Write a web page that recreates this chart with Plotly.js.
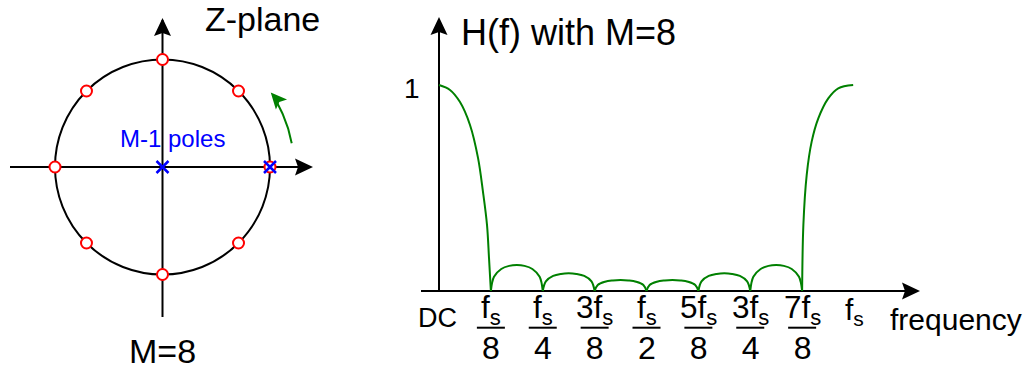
<!DOCTYPE html>
<html><head><meta charset="utf-8">
<script src="https://cdn.plot.ly/plotly-3.0.1.min.js"></script>
<style>html,body{margin:0;padding:0;background:#fff;} #chart{width:1030px;height:370px;}</style>
</head><body><div id="chart"></div>
<script>
// ---- Z-plane data (unit-circle zeros, poles) ----
const zeroRe = [1, 0.7071, 0, -0.7071, -1, -0.7071, 0, 0.7071];
const zeroIm = [0, 0.7071, 1, 0.7071, 0, -0.7071, -1, -0.7071];
const poleRe = [0, 1];
const poleIm = [0, 0];

// ---- H(f) magnitude (f in units of fs) ----
const lobe0F = [0, 0.0265, 0.0506, 0.0747, 0.094, 0.106, 0.1157, 0.1205, 0.125];
const lobe0H = [1, 0.976, 0.917, 0.806, 0.646, 0.481, 0.320, 0.160, 0];
const lobe1F = [0.125, 0.1325, 0.15, 0.169, 0.1875, 0.206, 0.225, 0.2425, 0.25];
const lobe1H = [0, 0.069, 0.107, 0.122, 0.126, 0.122, 0.107, 0.069, 0];
const lobe2F = [0.25, 0.2575, 0.275, 0.294, 0.3125, 0.331, 0.35, 0.3675, 0.375];
const lobe2H = [0, 0.047, 0.073, 0.083, 0.086, 0.083, 0.073, 0.047, 0];
const lobe3F = [0.375, 0.3825, 0.4, 0.419, 0.4375, 0.456, 0.475, 0.4925, 0.5];
const lobe3H = [0, 0.029, 0.045, 0.051, 0.053, 0.051, 0.045, 0.029, 0];
const lobe4F = [0.5, 0.5075, 0.525, 0.544, 0.5625, 0.581, 0.6, 0.6175, 0.625];
const lobe4H = [0, 0.029, 0.045, 0.051, 0.053, 0.051, 0.045, 0.029, 0];
const lobe5F = [0.625, 0.6325, 0.65, 0.669, 0.6875, 0.706, 0.725, 0.7425, 0.75];
const lobe5H = [0, 0.047, 0.073, 0.083, 0.086, 0.083, 0.073, 0.047, 0];
const lobe6F = [0.75, 0.7575, 0.775, 0.794, 0.8125, 0.831, 0.85, 0.8675, 0.875];
const lobe6H = [0, 0.069, 0.107, 0.122, 0.126, 0.122, 0.107, 0.069, 0];
const lobe7F = [0.875, 0.878, 0.886, 0.898, 0.914, 0.938, 0.962, 0.998];
const lobe7H = [0, 0.32, 0.563, 0.725, 0.838, 0.935, 0.984, 1.0];

// ---- tick labels ----
const tickF = [0, 0.125, 0.25, 0.375, 0.5, 0.625, 0.75, 0.875, 1];
const tickNum = ['DC', 'f<sub>s</sub>', 'f<sub>s</sub>', '3f<sub>s</sub>', 'f<sub>s</sub>', '5f<sub>s</sub>', '3f<sub>s</sub>', '7f<sub>s</sub>', 'f<sub>s</sub>'];
const tickDen = ['', '8', '4', '8', '2', '8', '4', '8', ''];

// ---- geometry helpers (pixel -> data) ----
const W = 1030, Hh = 370;
const cx = 162.5, cy = 167, R = 107.5;           // z-plane
const ox = 439, oy = 291, sx = 415, sy = 206;     // H(f) panel
const lx = p => (p - cx) / R, ly = p => (cy - p) / R;
const rx = p => (p - ox) / sx, ry = p => (oy - p) / sy;

const FONT = 'Liberation Sans, Arial, sans-serif';
const GREEN = '#008000', RED = '#ff0000', BLUE = '#0000ff';

const traces = [];
const lobesF = [lobe0F, lobe1F, lobe2F, lobe3F, lobe4F, lobe5F, lobe6F, lobe7F];
const lobesH = [lobe0H, lobe1H, lobe2H, lobe3H, lobe4H, lobe5H, lobe6H, lobe7H];
for (let i = 0; i < lobesF.length; i++) {
  traces.push({x: lobesF[i], y: lobesH[i], xaxis: 'x2', yaxis: 'y2', type: 'scatter', mode: 'lines',
    line: {color: GREEN, width: 2, shape: 'spline', smoothing: 1}, hoverinfo: 'skip', showlegend: false});
}
// green rotation arc (concentric with unit circle)
const arcR = 1.222, a0 = 10.4, a1 = 29;
const arcX = [], arcY = [];
for (let k = 0; k <= 30; k++) {
  const a = (a0 + (a1 - a0) * k / 30) * Math.PI / 180;
  arcX.push(arcR * Math.cos(a)); arcY.push(arcR * Math.sin(a));
}
traces.push({x: arcX, y: arcY, xaxis: 'x', yaxis: 'y', type: 'scatter', mode: 'lines',
  line: {color: GREEN, width: 2}, hoverinfo: 'skip', showlegend: false});
// zeros
traces.push({x: zeroRe, y: zeroIm, xaxis: 'x', yaxis: 'y', type: 'scatter', mode: 'markers', cliponaxis: false,
  marker: {symbol: 'circle', size: 11, color: 'white', line: {color: RED, width: 2}}, hoverinfo: 'skip', showlegend: false});
// poles
traces.push({x: poleRe, y: poleIm, xaxis: 'x', yaxis: 'y', type: 'scatter', mode: 'markers', cliponaxis: false,
  marker: {symbol: 'x-thin', size: 12, color: BLUE, line: {color: BLUE, width: 2.5}}, hoverinfo: 'skip', showlegend: false});

const shapes = [
  {type: 'circle', xref: 'x', yref: 'y', x0: -1, x1: 1, y0: -1, y1: 1, line: {color: '#000', width: 2}, layer: 'below'}
];
// axis line + pixel-sized arrow head (dir: 'r' or 'u')
function axisArrow(xr, yr, x0, y0, x1, y1, dir) {
  shapes.push({type: 'line', xref: xr, yref: yr, x0: x0, y0: y0, x1: x1, y1: y1, line: {color: '#000', width: 2}, layer: 'below'});
  const p = dir === 'r' ? 'M2,0 L-16,8.5 L-13,0 L-16,-8.5 Z' : 'M0,2 L-8.5,-16 L0,-13 L8.5,-16 Z';
  shapes.push({type: 'path', xref: xr, yref: yr, xsizemode: 'pixel', ysizemode: 'pixel', xanchor: x1, yanchor: y1,
    path: p, fillcolor: '#000', line: {color: '#000', width: 0}});
}
axisArrow('x', 'y', lx(10), 0, lx(311), 0, 'r');
axisArrow('x', 'y', 0, ly(317), 0, ly(20), 'u');
axisArrow('x2', 'y2', rx(421), 0, rx(918), 0, 'r');
axisArrow('x2', 'y2', 0, 0, 0, ry(19), 'u');
// green arrow head at end of arc (pixel path, y up)
(function () {
  const tipA = 34.5 * Math.PI / 180;
  const tx = arcR * Math.cos(tipA), ty = arcR * Math.sin(tipA);
  const dAng = 132 * Math.PI / 180, L = 16, hw = 7.5;
  const dx = Math.cos(dAng), dy = Math.sin(dAng);
  const bx = -L * dx, by = -L * dy, nx = -dy, ny = dx;
  const f = v => v.toFixed(2);
  const p = 'M0,0 L' + f(bx + hw * nx) + ',' + f(by + hw * ny) + ' L' + f(bx * 0.8) + ',' + f(by * 0.8) +
            ' L' + f(bx - hw * nx) + ',' + f(by - hw * ny) + ' Z';
  shapes.push({type: 'path', xref: 'x', yref: 'y', xsizemode: 'pixel', ysizemode: 'pixel', xanchor: tx, yanchor: ty,
    path: p, fillcolor: GREEN, line: {color: GREEN, width: 0}});
})();

function label(xref, yref, x, y, text, size, color) {
  return {xref: xref, yref: yref, x: x, y: y, text: text, showarrow: false, xanchor: 'center', yanchor: 'middle',
    font: {family: FONT, size: size, color: color || '#000'}};
}
const ann = [];
ann.push(label('x', 'y', lx(262), ly(18.5), 'Z-plane', 34));
ann.push(label('x', 'y', lx(162), ly(351), 'M=8', 34));
ann.push(label('x', 'y', lx(172), ly(138.5), 'M-1 poles', 24, BLUE));
ann.push(label('x2', 'y2', rx(568), ry(32.5), 'H(f) with M=8', 36));
ann.push(label('x2', 'y2', rx(412), ry(88.5), '1', 28));
ann.push(label('x2', 'y2', rx(956), ry(319.5), 'frequency', 30));
for (let i = 0; i < tickF.length; i++) {
  if (tickDen[i] === '') {
    const isDC = tickNum[i] === 'DC';
    ann.push(label('x2', 'y2', isDC ? rx(437.5) : tickF[i], isDC ? ry(317.5) : ry(311), tickNum[i], isDC ? 27 : 30));
  } else {
    ann.push(label('x2', 'y2', tickF[i], ry(327.7),
      tickNum[i] + '<br><span style="font-size:32px">' + tickDen[i] + '</span>', 31.5));
    shapes.push({type: 'line', xref: 'x2', yref: 'y2', xsizemode: 'pixel', xanchor: tickF[i], x0: -14, x1: 14,
      y0: ry(327.7), y1: ry(327.7), line: {color: '#000', width: 2}});
  }
}

const hid = {visible: false, showgrid: false, zeroline: false, fixedrange: true};
const layout = {
  width: W, height: Hh, margin: {l: 0, r: 0, t: 0, b: 0}, paper_bgcolor: '#fff', plot_bgcolor: 'rgba(0,0,0,0)',
  showlegend: false,
  xaxis: Object.assign({domain: [0, 325 / W], range: [lx(0), lx(325)], anchor: 'y'}, hid),
  yaxis: Object.assign({domain: [0, 1], range: [ly(370), ly(0)], anchor: 'x'}, hid),
  xaxis2: Object.assign({domain: [400 / W, 1], range: [rx(400), rx(1030)], anchor: 'y2'}, hid),
  yaxis2: Object.assign({domain: [0, 1], range: [ry(370), ry(0)], anchor: 'x2'}, hid),
  annotations: ann, shapes: shapes
};
Plotly.newPlot('chart', traces, layout, {staticPlot: true, displayModeBar: false}).then(function (gd) {
  // drop Plotly's empty placeholder texts and zero-width-space helpers left by <sub>
  const ZWS = /^[\s\u200b]*$/;
  gd.querySelectorAll('tspan').forEach(function (t) {
    if (!t.classList.contains('line') && ZWS.test(t.textContent)) t.remove();
  });
  gd.querySelectorAll('tspan, text').forEach(function (el) {
    Array.from(el.childNodes).forEach(function (n) {
      if (n.nodeType === 3 && ZWS.test(n.nodeValue)) n.remove();
    });
  });
  gd.querySelectorAll('text').forEach(function (t) { if (ZWS.test(t.textContent)) t.remove(); });
});
</script></body></html>
